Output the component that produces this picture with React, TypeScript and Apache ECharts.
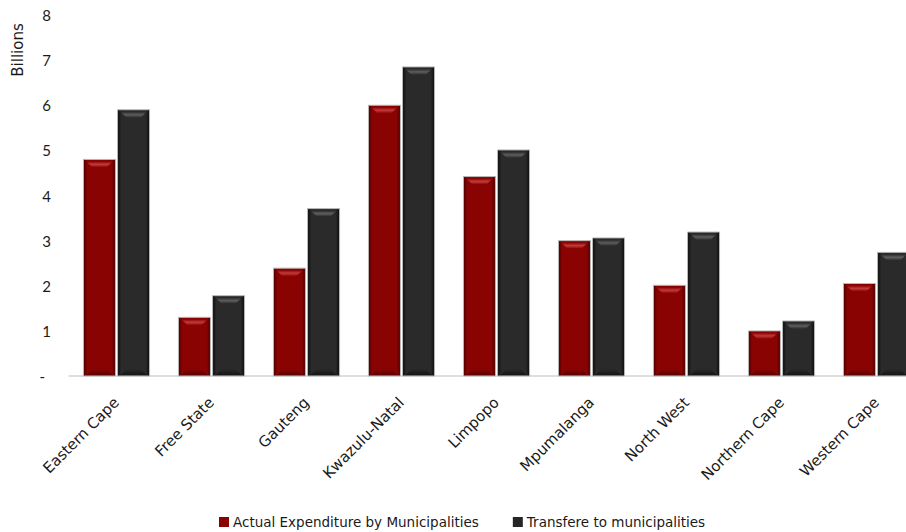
import React, { useEffect, useRef } from "react";
import * as echarts from "echarts";

// Provinces and amounts (billions of rand)
const provinces = [
  "Eastern Cape",
  "Free State",
  "Gauteng",
  "Kwazulu-Natal",
  "Limpopo",
  "Mpumalanga",
  "North West",
  "Northern Cape",
  "Western Cape",
];
const actualExpenditure = [4.8, 1.3, 2.39, 6.0, 4.42, 3.0, 2.01, 1.0, 2.05];
const transfers = [5.9, 1.78, 3.71, 6.85, 5.01, 3.06, 3.19, 1.22, 2.74];
const seriesNames = ["Actual Expenditure by Municipalities", "Transfere to municipalities"];
const yTicks = [0, 1, 2, 3, 4, 5, 6, 7, 8];

const TICK_FONT = "Lato, 'Open Sans', sans-serif";
const LABEL_FONT = "'DejaVu Sans', 'Noto Sans', sans-serif";
const INK = "#1a1a1a";

type Palette = { edge: string; body: string; hi: string; lo: string; base: string };
const palettes: Palette[] = [
  { edge: "#4a0000", body: "#8a0303", hi: "#c43a3a", lo: "#5c0000", base: "#8b0000" },
  { edge: "#0c0c0c", body: "#2a2a2a", hi: "#5e5e5e", lo: "#151515", base: "#262626" },
];

// Bevelled bar drawn from the category axis band and value axis scale
function bevelBar(seriesIdx: number) {
  const p = palettes[seriesIdx];
  return (params: any, api: any) => {
    const cat = api.value(0);
    const val = api.value(1);
    const base = api.coord([cat, 0]);
    const top = api.coord([cat, val]);
    const band = api.size([1, 0])[0];
    const bw = band * 0.337;
    const gap = band * 0.022;
    const x = seriesIdx === 0 ? base[0] - gap / 2 - bw : base[0] + gap / 2;
    const y = top[1];
    const h = base[1] - top[1];
    const bev = Math.min(6, h / 4);
    return {
      type: "group",
      children: [
        {
          type: "rect",
          shape: { x, y, width: bw, height: h },
          style: {
            fill: new echarts.graphic.LinearGradient(0, 0, 1, 0, [
              { offset: 0, color: p.edge },
              { offset: 0.12, color: p.body },
              { offset: 0.88, color: p.body },
              { offset: 1, color: p.edge },
            ]),
            stroke: "#b8b8b8",
            lineWidth: 1,
          },
        },
        {
          type: "polygon",
          shape: {
            points: [
              [x + 3, y + 2],
              [x + bw - 3, y + 2],
              [x + bw - 3 - bev, y + 2 + bev],
              [x + 3 + bev, y + 2 + bev],
            ],
          },
          style: {
            fill: new echarts.graphic.LinearGradient(0, 0, 0, 1, [
              { offset: 0, color: p.body },
              { offset: 0.5, color: p.hi },
              { offset: 1, color: p.body },
            ]),
          },
        },
        {
          type: "polygon",
          shape: {
            points: [
              [x + 3, y + h - 1],
              [x + bw - 3, y + h - 1],
              [x + bw - 3 - bev, y + h - 1 - bev],
              [x + 3 + bev, y + h - 1 - bev],
            ],
          },
          style: {
            fill: new echarts.graphic.LinearGradient(0, 0, 0, 1, [
              { offset: 0, color: p.body },
              { offset: 1, color: p.lo },
            ]),
          },
        },
      ],
    };
  };
}

// The plot runs past the right edge of the visible frame, so the canvas is wider than the page
const CANVAS_W = 924;
const CANVAS_H = 532;

export default function App() {
  const ref = useRef<HTMLDivElement>(null);

  useEffect(() => {
    if (!ref.current) return;
    const chart = echarts.init(ref.current, null, { renderer: "svg" });
    const series = [actualExpenditure, transfers].map((vals, si) => ({
      type: "custom",
      name: seriesNames[si],
      renderItem: bevelBar(si),
      encode: { x: 0, y: 1 },
      itemStyle: { color: palettes[si].base },
      data: vals.map((v, i) => [i, v]),
      clip: false,
    }));
    chart.setOption({
      animation: false,
      backgroundColor: "#ffffff",
      textStyle: { fontFamily: TICK_FONT },
      grid: { left: 69, right: 0, top: 15, bottom: 156, containLabel: false },
      xAxis: {
        type: "category",
        data: provinces,
        axisLine: { show: true, lineStyle: { color: "#d4d4d4", width: 1.5 } },
        axisTick: { show: false },
        axisLabel: {
          interval: 0,
          rotate: 45,
          margin: 24,
          fontSize: 15,
          color: INK,
          fontFamily: LABEL_FONT,
        },
      },
      yAxis: {
        type: "value",
        min: 0,
        max: yTicks[yTicks.length - 1],
        interval: 1,
        splitLine: { show: false },
        axisLine: { show: false },
        axisTick: { show: false },
        axisLabel: {
          fontSize: 15,
          color: INK,
          fontFamily: TICK_FONT,
          margin: 18,
          formatter: (v: number) => (v === 0 ? "{d|-}" : String(v)),
          rich: { d: { fontSize: 15, color: INK, padding: [0, 6, 0, 0], fontFamily: TICK_FONT } },
        },
      },
      legend: {
        top: 510,
        left: 214,
        icon: "rect",
        itemWidth: 10,
        itemHeight: 10,
        itemGap: 34,
        textStyle: { fontSize: 13.5, color: INK, fontFamily: LABEL_FONT, padding: [0, 0, 0, -1] },
        data: seriesNames,
      },
      graphic: [
        {
          type: "text",
          x: 18,
          y: 50,
          rotation: Math.PI / 2,
          style: {
            text: "Billions",
            fontSize: 15,
            fontFamily: LABEL_FONT,
            fill: INK,
            align: "center",
            verticalAlign: "middle",
          },
        },
      ],
      series,
    });
    return () => chart.dispose();
  }, []);

  return (
    <div
      ref={ref}
      style={{
        position: "fixed",
        left: 0,
        top: 0,
        width: CANVAS_W,
        height: CANVAS_H,
        background: "#fff",
      }}
    />
  );
}
